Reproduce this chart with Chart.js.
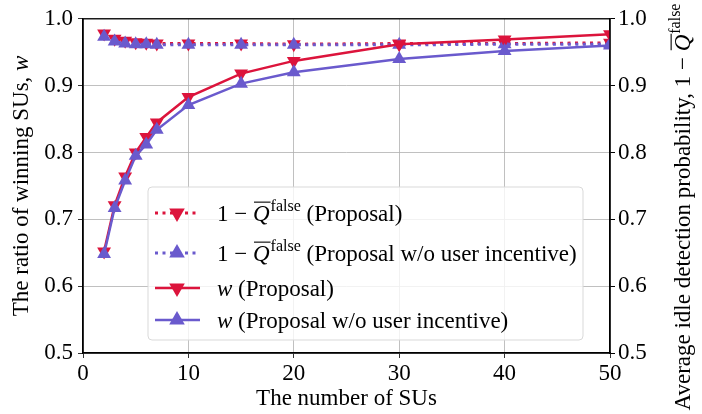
<!DOCTYPE html>
<html><head><meta charset="utf-8">
<script src="https://cdn.jsdelivr.net/npm/chart.js@4/dist/chart.umd.min.js"></script>
<style>html,body{margin:0;padding:0;background:#fff;}#wrap{position:relative;width:702px;height:414px;}</style>
</head><body><div id="wrap"><canvas id="c" width="702" height="414"></canvas></div>
<script>
const numSUs = [2, 3, 4, 5, 6, 7, 10, 15, 20, 30, 40, 50];
const qProposal = [0.978, 0.970, 0.967, 0.965, 0.964, 0.963, 0.963, 0.963, 0.962, 0.963, 0.963, 0.964];
const qNoIncentive = [0.973, 0.966, 0.963, 0.962, 0.962, 0.961, 0.961, 0.961, 0.961, 0.961, 0.962, 0.962];
const wProposal = [0.652, 0.721, 0.764, 0.800, 0.823, 0.845, 0.883, 0.918, 0.937, 0.962, 0.969, 0.977];
const wNoIncentive = [0.648, 0.717, 0.758, 0.795, 0.812, 0.834, 0.871, 0.903, 0.920, 0.940, 0.952, 0.960];
const xTicks = [0, 10, 20, 30, 40, 50];
const yTicks = [0.5, 0.6, 0.7, 0.8, 0.9, 1.0];

const RED = '#DC143C', BLUE = '#6A5ACD';
const SERIF = '"Liberation Serif", "DejaVu Serif", serif';
const FS = 23;
const toPts = ys => numSUs.map((x, i) => ({x, y: ys[i]}));

const legendItems = [
  {color: RED, dash: true, rot: 180, segs: [['1 − ', ''], ['Q', 'iq'], ['false', 'sup'], [' (Proposal)', '']]},
  {color: BLUE, dash: true, rot: 0, segs: [['1 − ', ''], ['Q', 'iq'], ['false', 'sup'], [' (Proposal w/o user incentive)', '']]},
  {color: RED, dash: false, rot: 180, segs: [['w', 'i'], [' (Proposal)', '']]},
  {color: BLUE, dash: false, rot: 0, segs: [['w', 'i'], [' (Proposal w/o user incentive)', '']]},
];

function segFont(st, size) {
  if (st === 'sup') return `${Math.round(size*0.7)}px ${SERIF}`;
  return `${st === 'i' || st === 'iq' ? 'italic ' : ''}${size}px ${SERIF}`;
}
function richWidth(ctx, segs, size) {
  let w = 0;
  for (const [t, st] of segs) { ctx.font = segFont(st, size); w += ctx.measureText(t).width + (st === 'iq' ? 1 : 0); }
  return w;
}
function drawRich(ctx, segs, x, y, size) {
  for (const [t, st] of segs) {
    ctx.font = segFont(st, size);
    const w = ctx.measureText(t).width;
    if (st === 'sup') { ctx.fillText(t, x, y - size*0.45); x += w; continue; }
    ctx.fillText(t, x, y);
    if (st === 'iq') {
      ctx.save(); ctx.lineWidth = 1.1; ctx.strokeStyle = ctx.fillStyle;
      ctx.beginPath(); ctx.moveTo(x + 1, y - size*0.82); ctx.lineTo(x + w + 1, y - size*0.82); ctx.stroke(); ctx.restore();
      x += w + 1;
    } else x += w;
  }
  return x;
}

function tri(ctx, cx, cy, r, rot, color) {
  ctx.save(); ctx.translate(cx, cy); ctx.rotate(rot*Math.PI/180);
  ctx.beginPath();
  ctx.moveTo(0, -r); ctx.lineTo(r*0.866, r*0.5); ctx.lineTo(-r*0.866, r*0.5); ctx.closePath();
  ctx.fillStyle = color; ctx.fill(); ctx.restore();
}

const extras = {
  id: 'extras',
  afterDraw(chart) {
    const ctx = chart.ctx, a = chart.chartArea;
    ctx.save();
    ctx.strokeStyle = '#000'; ctx.lineWidth = 1.3;
    ctx.strokeRect(a.left, a.top, a.right - a.left, a.bottom - a.top);
    // legend
    const bx = 148, by = 187, bw = 435, bh = 153, rr = 4;
    ctx.fillStyle = 'rgba(255,255,255,0.8)';
    ctx.strokeStyle = '#d9d9d9'; ctx.lineWidth = 1;
    ctx.beginPath(); ctx.roundRect(bx, by, bw, bh, rr); ctx.fill(); ctx.stroke();
    const rows = [213, 253, 288, 320];
    legendItems.forEach((it, i) => {
      const y = rows[i];
      ctx.strokeStyle = it.color; ctx.lineWidth = it.dash ? 3 : 2.5;
      ctx.setLineDash(it.dash ? [3, 4.5] : []);
      ctx.beginPath(); ctx.moveTo(155, y); ctx.lineTo(200, y); ctx.stroke();
      ctx.setLineDash([]);
      tri(ctx, 177, y, 9, it.rot, it.color);
      ctx.fillStyle = '#000'; ctx.textBaseline = 'alphabetic'; ctx.textAlign = 'left';
      drawRich(ctx, it.segs, 217, y + 8, FS);
    });
    ctx.fillStyle = '#000'; ctx.textBaseline = 'alphabetic'; ctx.textAlign = 'left';
    // x title
    const segX = [['The number of SUs', '']];
    drawRich(ctx, segX, (a.left + a.right)/2 - richWidth(ctx, segX, FS)/2, 405, FS);
    // left title
    ctx.save(); ctx.translate(28, (a.top + a.bottom)/2); ctx.rotate(-Math.PI/2);
    const segL = [['The ratio of winning SUs, ', ''], ['w', 'i']];
    drawRich(ctx, segL, -richWidth(ctx, segL, FS)/2, 0, FS);
    ctx.restore();
    // right title
    ctx.save(); ctx.translate(690, 207); ctx.rotate(-Math.PI/2);
    const segR = [['Average idle detection probability, 1 − ', ''], ['Q', 'iq'], ['false', 'sup']];
    drawRich(ctx, segR, -richWidth(ctx, segR, FS)/2, 0, FS);
    ctx.restore();
    ctx.restore();
  }
};

const tickFont = {family: SERIF, size: FS};
const PR = 8;
new Chart(document.getElementById('c'), {
  type: 'line',
  data: {
    datasets: [
      {label: 'w (Proposal w/o user incentive)', data: toPts(wNoIncentive), borderColor: BLUE, backgroundColor: BLUE, borderWidth: 2.5, pointStyle: 'triangle', pointRotation: 0, pointRadius: PR, pointBorderWidth: 0},
      {label: 'w (Proposal)', data: toPts(wProposal), borderColor: RED, backgroundColor: RED, borderWidth: 2.5, pointStyle: 'triangle', pointRotation: 180, pointRadius: PR, pointBorderWidth: 0},
      {label: '1 − Q̄false (Proposal w/o user incentive)', data: toPts(qNoIncentive), borderColor: BLUE, backgroundColor: BLUE, borderWidth: 3, borderDash: [3, 4.5], pointStyle: 'triangle', pointRotation: 0, pointRadius: PR, pointBorderWidth: 0},
      {label: '1 − Q̄false (Proposal)', data: toPts(qProposal), borderColor: RED, backgroundColor: RED, borderWidth: 3, borderDash: [3, 4.5], pointStyle: 'triangle', pointRotation: 180, pointRadius: PR, pointBorderWidth: 0},
    ]
  },
  options: {
    responsive: false, animation: false,
    layout: {padding: {top: 12, left: 0, right: 0, bottom: 0}},
    plugins: {legend: {display: false}, tooltip: {enabled: false}},
    scales: {
      x: {type: 'linear', min: 0, max: 50,
        afterBuildTicks: s => { s.ticks = xTicks.map(v => ({value: v})); },
        afterFit: s => { s.height = 61; },
        grid: {color: '#b0b0b0', lineWidth: 0.8, tickLength: 5, tickColor: '#000'},
        border: {color: '#000', width: 1.3},
        ticks: {font: tickFont, color: '#000', padding: 2, maxRotation: 0, callback: v => String(v)}},
      y: {type: 'linear', min: 0.5, max: 1.0, position: 'left',
        afterBuildTicks: s => { s.ticks = yTicks.map(v => ({value: v})); },
        afterFit: s => { s.width = 83; },
        grid: {color: '#b0b0b0', lineWidth: 0.8, tickLength: 5, tickColor: '#000'},
        border: {color: '#000', width: 1.3},
        ticks: {font: tickFont, color: '#000', padding: 5, callback: v => v.toFixed(1)}},
      y2: {type: 'linear', min: 0.5, max: 1.0, position: 'right',
        afterBuildTicks: s => { s.ticks = yTicks.map(v => ({value: v})); },
        afterFit: s => { s.width = 92; },
        grid: {drawOnChartArea: false, tickLength: 5, tickColor: '#000'},
        border: {color: '#000', width: 1.3},
        ticks: {font: tickFont, color: '#000', padding: 3, callback: v => v.toFixed(1)}}
    }
  },
  plugins: [extras]
});
</script></body></html>
